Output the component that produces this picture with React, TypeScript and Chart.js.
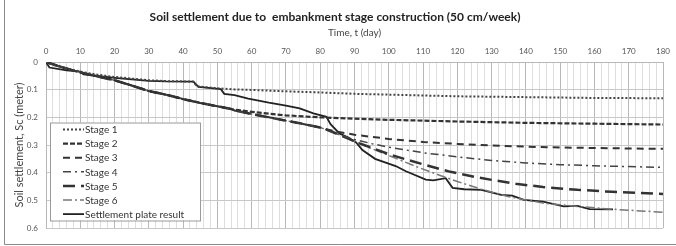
import React, { useEffect, useRef } from "react";
import { Chart, registerables } from "chart.js";

Chart.register(...registerables);

const chartTitle = "Soil settlement due to  embankment stage construction (50 cm/week)";
const xTitle = "Time, t (day)";
const yTitle = "Soil settlement, Sc (meter)";

const stage1Days = [0, 2, 5, 10, 15, 20, 25, 30, 35, 43, 44, 50, 55, 60, 70, 80, 90, 100, 120, 140, 160, 180];
const stage1Vals = [0, 0.01, 0.02, 0.035, 0.046, 0.054, 0.06, 0.066, 0.069, 0.071, 0.088, 0.095, 0.099, 0.101, 0.106, 0.11, 0.115, 0.118, 0.124, 0.127, 0.13, 0.131];

const stage2Days = [0, 5, 10, 15, 20, 25, 30, 35, 40, 45, 50, 54, 55, 60, 65, 70, 80, 90, 100, 120, 140, 160, 180];
const stage2Vals = [0, 0.02, 0.038, 0.052, 0.066, 0.085, 0.105, 0.118, 0.134, 0.148, 0.16, 0.17, 0.172, 0.18, 0.187, 0.193, 0.2, 0.205, 0.209, 0.215, 0.22, 0.223, 0.226];

const stage3Days = [0, 5, 10, 15, 20, 25, 30, 35, 40, 45, 50, 54, 55, 60, 65, 70, 75, 80, 82, 85, 90, 100, 110, 120, 130, 140, 150, 160, 180];
const stage3Vals = [0, 0.02, 0.038, 0.052, 0.066, 0.085, 0.105, 0.118, 0.134, 0.148, 0.16, 0.17, 0.175, 0.188, 0.2, 0.212, 0.224, 0.237, 0.244, 0.252, 0.263, 0.278, 0.289, 0.296, 0.302, 0.306, 0.309, 0.311, 0.314];

const stage4Days = [0, 5, 10, 15, 20, 25, 30, 35, 40, 45, 50, 54, 55, 60, 65, 70, 75, 80, 82, 85, 88, 90, 95, 100, 110, 120, 130, 140, 150, 160, 170, 180];
const stage4Vals = [0, 0.02, 0.038, 0.052, 0.066, 0.085, 0.105, 0.118, 0.134, 0.148, 0.16, 0.17, 0.175, 0.188, 0.2, 0.212, 0.224, 0.237, 0.245, 0.26, 0.272, 0.28, 0.295, 0.308, 0.328, 0.343, 0.356, 0.365, 0.371, 0.375, 0.378, 0.381];

const stage5Days = [0, 5, 10, 15, 20, 25, 30, 35, 40, 45, 50, 54, 55, 60, 65, 70, 75, 80, 82, 85, 88, 91, 95, 100, 105, 110, 118, 125, 130, 137, 145, 155, 165, 180];
const stage5Vals = [0, 0.02, 0.038, 0.052, 0.066, 0.085, 0.105, 0.118, 0.134, 0.148, 0.16, 0.17, 0.175, 0.188, 0.2, 0.212, 0.224, 0.237, 0.245, 0.26, 0.276, 0.292, 0.31, 0.333, 0.352, 0.37, 0.397, 0.415, 0.426, 0.44, 0.452, 0.462, 0.469, 0.477];

const stage6Days = [0, 5, 10, 15, 20, 25, 30, 35, 40, 45, 50, 54, 55, 60, 65, 70, 75, 80, 82, 85, 88, 91, 93, 100, 108, 115, 120, 127, 135, 145, 155, 165, 180];
const stage6Vals = [0, 0.02, 0.038, 0.052, 0.066, 0.085, 0.105, 0.118, 0.134, 0.148, 0.16, 0.17, 0.175, 0.188, 0.2, 0.212, 0.224, 0.237, 0.245, 0.26, 0.276, 0.292, 0.303, 0.338, 0.378, 0.41, 0.432, 0.46, 0.487, 0.51, 0.522, 0.532, 0.543];

const plateDays = [0, 1, 6, 10, 11, 15, 20, 25, 30, 35, 43, 44.5, 51, 52, 55, 59, 65, 70, 74, 78, 81.8, 83, 85.6, 88, 90.4, 92.3, 96, 102, 105, 110.8, 113, 116.6, 118.6, 122, 127, 132.8, 136, 139.4, 145, 151, 155, 158.6, 165.4];
const plateVals = [0, 0.02, 0.03, 0.035, 0.045, 0.05, 0.057, 0.063, 0.068, 0.07, 0.071, 0.09, 0.098, 0.115, 0.12, 0.132, 0.147, 0.158, 0.168, 0.186, 0.198, 0.225, 0.258, 0.272, 0.29, 0.318, 0.35, 0.376, 0.395, 0.425, 0.428, 0.42, 0.455, 0.46, 0.462, 0.48, 0.483, 0.498, 0.505, 0.522, 0.52, 0.532, 0.533];

const seriesLabels = ["Stage 1", "Stage 2", "Stage 3", "Stage 4", "Stage 5", "Stage 6", "Settlement plate result"];

const FONT = "Lato, 'Noto Sans', sans-serif";

function pts(d: number[], v: number[]) {
  return d.map((x, i) => ({ x, y: v[i] }));
}

const legendPlugin = {
  id: "boxLegend",
  afterDraw(chart: any) {
    const { ctx, chartArea } = chart;
    ctx.save();
    // outer frame
    ctx.strokeStyle = "#8a8a8a";
    ctx.lineWidth = 1;
    ctx.beginPath();
    ctx.moveTo(4.5, 0);
    ctx.lineTo(4.5, 244.5);
    ctx.lineTo(676, 244.5);
    ctx.stroke();

    const left = chartArea.left + 4;
    const top = chartArea.top + 60.5;
    const w = 150;
    const h = 98;
    ctx.fillStyle = "#ffffff";
    ctx.fillRect(left, top, w, h);
    ctx.strokeStyle = "#9a9a9a";
    ctx.lineWidth = 1;
    ctx.strokeRect(left + 0.5, top + 0.5, w, h);
    ctx.font = "10px " + FONT;
    ctx.textBaseline = "middle";
    ctx.textAlign = "left";
    chart.data.datasets.forEach((ds: any, i: number) => {
      const y = top + 7 + i * 14.1;
      ctx.strokeStyle = ds.borderColor;
      ctx.lineWidth = ds.borderWidth;
      ctx.setLineDash(ds.borderDash || []);
      ctx.beginPath();
      ctx.moveTo(left + 13, y);
      ctx.lineTo(left + 34, y);
      ctx.stroke();
      ctx.setLineDash([]);
      ctx.fillStyle = "#333333";
      ctx.fillText(ds.label, left + 35, y + 0.5);
    });
    ctx.restore();
  },
};

export default function App() {
  const ref = useRef<HTMLCanvasElement>(null);
  useEffect(() => {
    const styles = [
      { c: "#444444", w: 2, d: [2, 2] },
      { c: "#333333", w: 2.2, d: [5, 2] },
      { c: "#333333", w: 2, d: [7, 5] },
      { c: "#444444", w: 1.5, d: [8, 4, 2, 4] },
      { c: "#333333", w: 2.5, d: [12, 6] },
      { c: "#777777", w: 1.5, d: [9, 3, 2, 3] },
      { c: "#222222", w: 1.8, d: [] },
    ];
    const data = [
      pts(stage1Days, stage1Vals),
      pts(stage2Days, stage2Vals),
      pts(stage3Days, stage3Vals),
      pts(stage4Days, stage4Vals),
      pts(stage5Days, stage5Vals),
      pts(stage6Days, stage6Vals),
      pts(plateDays, plateVals),
    ];
    const chart = new Chart(ref.current as HTMLCanvasElement, {
      type: "line",
      data: {
        datasets: data.map((d, i) => ({
          label: seriesLabels[i],
          data: d,
          borderColor: styles[i].c,
          borderWidth: styles[i].w,
          borderDash: styles[i].d,
          pointRadius: 0,
          fill: false,
          tension: 0,
        })),
      },
      options: {
        animation: false,
        responsive: false,
        maintainAspectRatio: false,
        layout: { padding: { left: 6, right: 12, top: 0, bottom: 18 } },
        plugins: {
          legend: { display: false },
          tooltip: { enabled: false },
          title: {
            display: true,
            text: chartTitle,
            color: "#222222",
            font: { family: FONT, size: 12, weight: "bold" },
            padding: { top: 10, bottom: 2 },
          },
        },
        scales: {
          x: {
            type: "linear",
            position: "top",
            min: 0,
            max: 180,
            afterFit(scale: any) {
              scale.height = 35.6;
            },
            ticks: {
              stepSize: 2,
              autoSkip: false,
              maxRotation: 0,
              padding: 6,
              color: "#555555",
              font: { family: FONT, size: 8 },
              callback: (v: any) => (Number(v) % 10 === 0 ? String(v) : ""),
            },
            grid: {
              drawTicks: false,
              color: (c: any) => (c.tick && c.tick.value % 10 === 0 ? "#b8b8b8" : "#dedede"),
              lineWidth: 1,
            },
            border: { display: true, color: "#b8b8b8" },
            title: {
              display: true,
              text: xTitle,
              color: "#444444",
              font: { family: FONT, size: 10 },
              padding: { top: 0, bottom: 0 },
            },
          },
          y: {
            type: "linear",
            reverse: true,
            min: 0,
            max: 0.6,
            afterFit(scale: any) {
              scale.width = 40;
            },
            ticks: {
              stepSize: 0.1,
              padding: 8,
              color: "#555555",
              font: { family: FONT, size: 8 },
              callback: (v: any) => String(Number(Number(v).toFixed(1))),
            },
            grid: { drawTicks: false, color: "#c8c8c8" },
            border: { display: true, color: "#b8b8b8" },
            title: {
              display: true,
              text: yTitle,
              color: "#444444",
              font: { family: FONT, size: 11 },
              padding: { top: 7, bottom: 0 },
            },
          },
        },
      },
      plugins: [legendPlugin],
    } as any);
    return () => chart.destroy();
  }, []);
  return (
    <div style={{ position: "fixed", left: 0, top: 0, width: 676, height: 246, background: "#fff" }}>
      <canvas ref={ref} width={676} height={246} style={{ width: 676, height: 246 }} />
    </div>
  );
}
